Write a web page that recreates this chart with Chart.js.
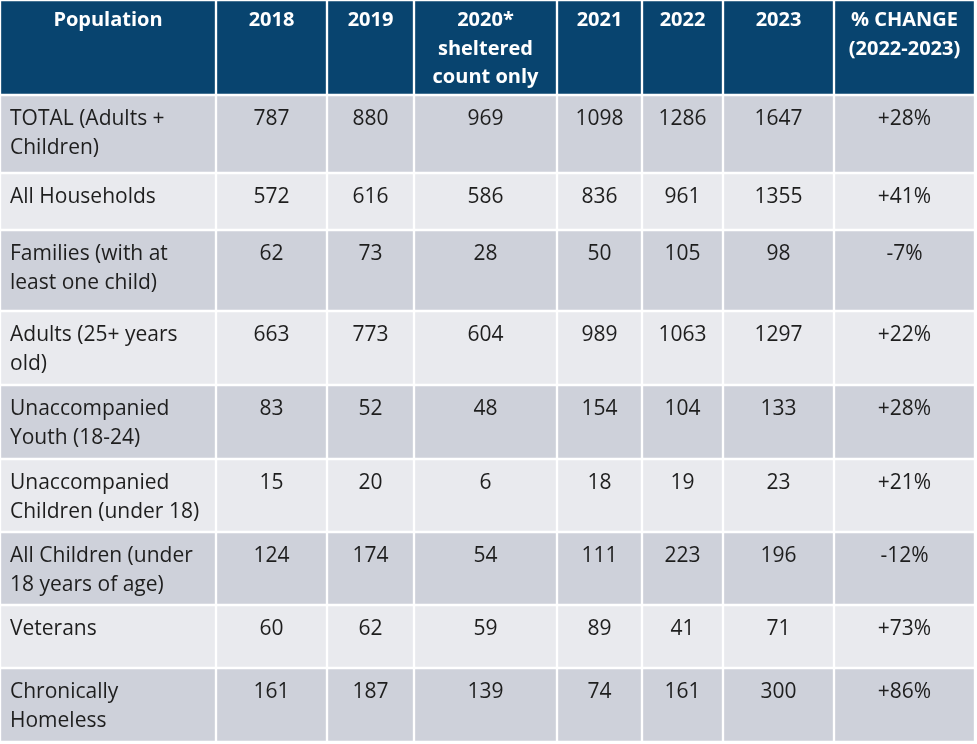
<!DOCTYPE html>
<html>
<head>
<meta charset="utf-8">
<title>Population counts 2018-2023</title>
<script src="https://cdn.jsdelivr.net/npm/chart.js@4/dist/chart.umd.min.js"></script>
<style>
    html, body { margin: 0; padding: 0; background: #ffffff; }
    #wrap { width: 977px; height: 744px; }
</style>
</head>
<body>
<div id="wrap"><canvas id="popTable" width="977" height="744"></canvas></div>
<script>

// table data
var headers = ["Population", "2018", "2019", "2020*\nsheltered\ncount only", "2021", "2022", "2023", "% CHANGE\n(2022-2023)"];
var populations = [
    "TOTAL (Adults +\nChildren)",
    "All Households",
    "Families (with at\nleast one child)",
    "Adults (25+ years\nold)",
    "Unaccompanied\nYouth (18-24)",
    "Unaccompanied\nChildren (under 18)",
    "All Children (under\n18 years of age)",
    "Veterans",
    "Chronically\nHomeless"
];
var count2018 = [787, 572, 62, 663, 83, 15, 124, 60, 161];
var count2019 = [880, 616, 73, 773, 52, 20, 174, 62, 187];
var count2020 = [969, 586, 28, 604, 48, 6, 54, 59, 139];
var count2021 = [1098, 836, 50, 989, 154, 18, 111, 89, 74];
var count2022 = [1286, 961, 105, 1063, 104, 19, 223, 41, 161];
var count2023 = [1647, 1355, 98, 1297, 133, 23, 196, 71, 300];
var pctChange = ["+28%", "+41%", "-7%", "+22%", "+28%", "+21%", "-12%", "+73%", "+86%"];

// layout (scale units = pixels)
var colWidths = [216, 111, 87, 143, 85, 81, 111, 141];
var rowHeights = [95, 78, 57, 81, 74, 74, 73, 73, 63, 74];

var headerColor = "#08446f";
var darkRow = "#ced1da";
var lightRow = "#e9eaee";

var colEdges = [0];
colWidths.forEach(function (w, i) { colEdges.push(colEdges[i] + w); });
var rowEdges = [0];
rowHeights.forEach(function (h, i) { rowEdges.push(rowEdges[i] + h); });

var yearColumns = [count2018, count2019, count2020, count2021, count2022, count2023];

var cellText = function (row, col) {
    if (row === 0) {
        return headers[col];
    }
    var r = row - 1;
    if (col === 0) return populations[r];
    if (col === 7) return pctChange[r];
    return String(yearColumns[col - 1][r]);
};

var rowColor = function (row) {
    if (row === 0) return headerColor;
    return (row % 2 === 1) ? darkRow : lightRow;
};

var datasets = rowHeights.map(function (h, row) {
    var center = (rowEdges[row] + rowEdges[row + 1]) / 2;
    return {
        label: row === 0 ? "header" : populations[row - 1],
        data: colWidths.map(function (w, col) {
            return { x: [colEdges[col], colEdges[col + 1]], y: center };
        }),
        backgroundColor: rowColor(row),
        borderColor: "#ffffff",
        borderWidth: 1.5,
        borderSkipped: false,
        barThickness: h,
        grouped: false
    };
});

// writes the cell text on top of each bar
var cellTextPlugin = {
    id: "cellText",
    afterDatasetsDraw: function (chart) {
        var ctx = chart.ctx;
        ctx.save();
        chart.data.datasets.forEach(function (ds, row) {
            var meta = chart.getDatasetMeta(row);
            meta.data.forEach(function (el, col) {
                var p = el.getProps(["x", "y", "base", "height"], true);
                var left = Math.min(p.x, p.base);
                var right = Math.max(p.x, p.base);
                var top = p.y - p.height / 2;
                var lines = cellText(row, col).split("\n");
                if (row === 0) {
                    ctx.font = "bold 20px 'Open Sans'";
                    ctx.fillStyle = "#ffffff";
                } else {
                    ctx.font = "21px 'Open Sans'";
                    ctx.fillStyle = "#1e1e1e";
                }
                ctx.textBaseline = "alphabetic";
                var tx;
                if (row > 0 && col === 0) {
                    ctx.textAlign = "left";
                    tx = left + 10;
                } else {
                    ctx.textAlign = "center";
                    tx = (left + right) / 2;
                }
                var firstBase = top + (row === 0 ? 26 : 30);
                lines.forEach(function (line, k) {
                    ctx.fillText(line, tx, firstBase + k * 28.5);
                });
            });
        });
        ctx.restore();
    }
};

new Chart(document.getElementById("popTable"), {
    type: "bar",
    data: { datasets: datasets },
    options: {
        indexAxis: "y",
        responsive: false,
        animation: false,
        layout: { padding: 0 },
        scales: {
            x: { type: "linear", min: 0, max: 977, offset: false, display: false },
            y: { type: "linear", min: 0, max: 744, reverse: true, offset: false, display: false }
        },
        plugins: {
            legend: { display: false },
            tooltip: { enabled: false }
        }
    },
    plugins: [cellTextPlugin]
});

</script>
</body>
</html>
